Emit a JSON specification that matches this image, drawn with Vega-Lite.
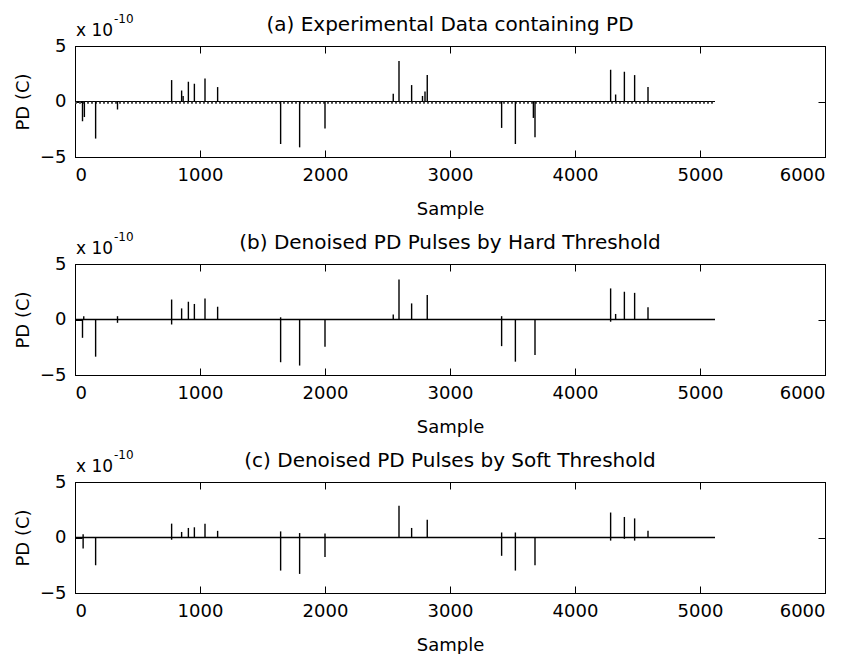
{
  "$schema": "https://vega.github.io/schema/vega-lite/v6.json",
  "background": "white",
  "padding": {"left": 13, "top": 12, "right": 10, "bottom": 0},
  "spacing": 11,
  "config": {
    "font": "DejaVu Sans",
    "view": {"stroke": "black", "strokeWidth": 1},
    "title": {"font": "DejaVu Sans", "fontSize": 20, "fontWeight": "normal", "color": "black", "offset": -22},
    "axis": {
      "grid": false, "domainColor": "black", "tickColor": "black", "labelColor": "black", "titleColor": "black",
      "labelFont": "DejaVu Sans", "titleFont": "DejaVu Sans", "labelFontSize": 18, "titleFontSize": 18,
      "titleFontWeight": "normal", "tickSize": -7, "labelPadding": 16, "format": "d"
    },
    "axisX": {"titlePadding": 16},
    "axisY": {"titlePadding": 7}
  },
  "datasets": {
    "base": [{"start": 0, "end": 5120, "level": 0}],
    "noise": [{"start": 0, "end": 5120, "level": -0.12}],
    "a": [
      {"s": 60, "v": -1.78}, {"s": 75, "v": -1.4}, {"s": 165, "v": -3.34}, {"s": 340, "v": -0.72},
      {"s": 773, "v": 1.93}, {"s": 853, "v": 0.99}, {"s": 865, "v": 0.5}, {"s": 907, "v": 1.78}, {"s": 955, "v": 1.6},
      {"s": 1040, "v": 2.08}, {"s": 1141, "v": 1.3}, {"s": 1645, "v": -3.83}, {"s": 1797, "v": -4.13},
      {"s": 2000, "v": -2.44}, {"s": 2546, "v": 0.7}, {"s": 2592, "v": 3.64}, {"s": 2693, "v": 1.48},
      {"s": 2780, "v": 0.5}, {"s": 2800, "v": 0.9}, {"s": 2818, "v": 2.38},
      {"s": 3413, "v": -2.38}, {"s": 3523, "v": -3.83}, {"s": 3667, "v": -1.48}, {"s": 3680, "v": -3.22},
      {"s": 4285, "v": 2.86}, {"s": 4325, "v": 0.63}, {"s": 4395, "v": 2.68}, {"s": 4477, "v": 2.38}, {"s": 4584, "v": 1.3}
    ],
    "b": [
      {"s": 60, "v": -1.65}, {"s": 70, "v": 0.3}, {"s": 165, "v": -3.35}, {"s": 340, "v": 0.3}, {"s": 340, "v": -0.3},
      {"s": 773, "v": 1.8}, {"s": 773, "v": -0.45}, {"s": 853, "v": 1.0}, {"s": 907, "v": 1.6}, {"s": 955, "v": 1.4},
      {"s": 1040, "v": 1.9}, {"s": 1141, "v": 1.15}, {"s": 1645, "v": -3.85}, {"s": 1645, "v": 0.2},
      {"s": 1797, "v": -4.15}, {"s": 2000, "v": -2.45}, {"s": 2546, "v": 0.45}, {"s": 2592, "v": 3.6},
      {"s": 2693, "v": 1.45}, {"s": 2818, "v": 2.2}, {"s": 3413, "v": -2.4}, {"s": 3413, "v": 0.3},
      {"s": 3523, "v": -3.8}, {"s": 3680, "v": -3.2}, {"s": 4285, "v": 2.8}, {"s": 4285, "v": -0.2},
      {"s": 4325, "v": 0.5}, {"s": 4395, "v": 2.5}, {"s": 4477, "v": 2.4}, {"s": 4584, "v": 1.1}
    ],
    "c": [
      {"s": 65, "v": -0.98}, {"s": 65, "v": 0.3}, {"s": 165, "v": -2.5}, {"s": 773, "v": 1.25}, {"s": 773, "v": -0.2},
      {"s": 853, "v": 0.5}, {"s": 907, "v": 0.86}, {"s": 955, "v": 0.92}, {"s": 1040, "v": 1.25}, {"s": 1141, "v": 0.6},
      {"s": 1645, "v": -2.98}, {"s": 1645, "v": 0.55}, {"s": 1797, "v": -3.28}, {"s": 1797, "v": 0.4},
      {"s": 2000, "v": -1.75}, {"s": 2000, "v": 0.35}, {"s": 2592, "v": 2.85}, {"s": 2693, "v": 0.86},
      {"s": 2818, "v": 1.6}, {"s": 3413, "v": -1.65}, {"s": 3413, "v": 0.45}, {"s": 3523, "v": -2.98},
      {"s": 3523, "v": 0.45}, {"s": 3680, "v": -2.5}, {"s": 4285, "v": 2.25}, {"s": 4285, "v": -0.28},
      {"s": 4395, "v": 1.85}, {"s": 4395, "v": -0.12}, {"s": 4477, "v": 1.72}, {"s": 4477, "v": -0.28}, {"s": 4584, "v": 0.6}
    ]
  },
  "vconcat": [
    {
      "width": 750, "height": 111,
      "title": "(a) Experimental Data containing PD",
      "resolve": {"axis": {"x": "independent", "y": "independent"}},
      "layer": [
        {
          "data": {"name": "base"},
          "mark": {"type": "rule", "color": "black", "strokeWidth": 1},
          "encoding": {
            "x": {"field": "start", "type": "quantitative", "scale": {"domain": [0, 6000], "nice": false}, "axis": {"orient": "bottom", "values": [0, 1000, 2000, 3000, 4000, 5000, 6000], "title": "Sample"}},
            "x2": {"field": "end"},
            "y": {"field": "level", "type": "quantitative", "scale": {"domain": [-5, 5], "nice": false}, "axis": {"orient": "left", "values": [-5, 0, 5], "title": "PD (C)"}}
          }
        },
        {
          "data": {"name": "noise"},
          "mark": {"type": "rule", "color": "#444444", "strokeWidth": 2, "strokeDash": [2, 2]},
          "encoding": {
            "x": {"field": "start", "type": "quantitative", "axis": null},
            "x2": {"field": "end"},
            "y": {"field": "level", "type": "quantitative", "axis": null}
          }
        },
        {
          "data": {"name": "a"},
          "mark": {"type": "rule", "color": "black", "strokeWidth": 1.4},
          "encoding": {
            "x": {"field": "s", "type": "quantitative", "axis": null},
            "y": {"field": "v", "type": "quantitative", "axis": null},
            "y2": {"datum": 0}
          }
        },
        {
          "data": {"name": "base"},
          "mark": {"type": "rule", "opacity": 0},
          "encoding": {
            "x": {"field": "start", "type": "quantitative", "axis": {"orient": "top", "values": [0, 1000, 2000, 3000, 4000, 5000, 6000], "labels": false, "title": null}},
            "x2": {"field": "end"},
            "y": {"field": "level", "type": "quantitative", "axis": {"orient": "right", "values": [-5, 0, 5], "labels": false, "title": null}}
          }
        },
        {
          "data": {"values": [{"t": "x 10", "sx": 0, "sy": 5}]},
          "mark": {"type": "text", "align": "left", "baseline": "alphabetic", "dx": 1, "dy": -10, "fontSize": 17, "color": "black"},
          "encoding": {"x": {"field": "sx", "type": "quantitative", "axis": null}, "y": {"field": "sy", "type": "quantitative", "axis": null}, "text": {"field": "t"}}
        },
        {
          "data": {"values": [{"t": "-10", "sx": 0, "sy": 5}]},
          "mark": {"type": "text", "align": "left", "baseline": "alphabetic", "dx": 39, "dy": -23, "fontSize": 12, "color": "black"},
          "encoding": {"x": {"field": "sx", "type": "quantitative", "axis": null}, "y": {"field": "sy", "type": "quantitative", "axis": null}, "text": {"field": "t"}}
        }
      ]
    },
    {
      "width": 750, "height": 111,
      "title": "(b) Denoised PD Pulses by Hard Threshold",
      "resolve": {"axis": {"x": "independent", "y": "independent"}},
      "layer": [
        {
          "data": {"name": "base"},
          "mark": {"type": "rule", "color": "black", "strokeWidth": 1.3},
          "encoding": {
            "x": {"field": "start", "type": "quantitative", "scale": {"domain": [0, 6000], "nice": false}, "axis": {"orient": "bottom", "values": [0, 1000, 2000, 3000, 4000, 5000, 6000], "title": "Sample"}},
            "x2": {"field": "end"},
            "y": {"field": "level", "type": "quantitative", "scale": {"domain": [-5, 5], "nice": false}, "axis": {"orient": "left", "values": [-5, 0, 5], "title": "PD (C)"}}
          }
        },
        {
          "data": {"name": "b"},
          "mark": {"type": "rule", "color": "black", "strokeWidth": 1.4},
          "encoding": {
            "x": {"field": "s", "type": "quantitative", "axis": null},
            "y": {"field": "v", "type": "quantitative", "axis": null},
            "y2": {"datum": 0}
          }
        },
        {
          "data": {"name": "base"},
          "mark": {"type": "rule", "opacity": 0},
          "encoding": {
            "x": {"field": "start", "type": "quantitative", "axis": {"orient": "top", "values": [0, 1000, 2000, 3000, 4000, 5000, 6000], "labels": false, "title": null}},
            "x2": {"field": "end"},
            "y": {"field": "level", "type": "quantitative", "axis": {"orient": "right", "values": [-5, 0, 5], "labels": false, "title": null}}
          }
        },
        {
          "data": {"values": [{"t": "x 10", "sx": 0, "sy": 5}]},
          "mark": {"type": "text", "align": "left", "baseline": "alphabetic", "dx": 1, "dy": -10, "fontSize": 17, "color": "black"},
          "encoding": {"x": {"field": "sx", "type": "quantitative", "axis": null}, "y": {"field": "sy", "type": "quantitative", "axis": null}, "text": {"field": "t"}}
        },
        {
          "data": {"values": [{"t": "-10", "sx": 0, "sy": 5}]},
          "mark": {"type": "text", "align": "left", "baseline": "alphabetic", "dx": 39, "dy": -23, "fontSize": 12, "color": "black"},
          "encoding": {"x": {"field": "sx", "type": "quantitative", "axis": null}, "y": {"field": "sy", "type": "quantitative", "axis": null}, "text": {"field": "t"}}
        }
      ]
    },
    {
      "width": 750, "height": 111,
      "title": "(c) Denoised PD Pulses by Soft Threshold",
      "resolve": {"axis": {"x": "independent", "y": "independent"}},
      "layer": [
        {
          "data": {"name": "base"},
          "mark": {"type": "rule", "color": "black", "strokeWidth": 1.3},
          "encoding": {
            "x": {"field": "start", "type": "quantitative", "scale": {"domain": [0, 6000], "nice": false}, "axis": {"orient": "bottom", "values": [0, 1000, 2000, 3000, 4000, 5000, 6000], "title": "Sample"}},
            "x2": {"field": "end"},
            "y": {"field": "level", "type": "quantitative", "scale": {"domain": [-5, 5], "nice": false}, "axis": {"orient": "left", "values": [-5, 0, 5], "title": "PD (C)"}}
          }
        },
        {
          "data": {"name": "c"},
          "mark": {"type": "rule", "color": "black", "strokeWidth": 1.4},
          "encoding": {
            "x": {"field": "s", "type": "quantitative", "axis": null},
            "y": {"field": "v", "type": "quantitative", "axis": null},
            "y2": {"datum": 0}
          }
        },
        {
          "data": {"name": "base"},
          "mark": {"type": "rule", "opacity": 0},
          "encoding": {
            "x": {"field": "start", "type": "quantitative", "axis": {"orient": "top", "values": [0, 1000, 2000, 3000, 4000, 5000, 6000], "labels": false, "title": null}},
            "x2": {"field": "end"},
            "y": {"field": "level", "type": "quantitative", "axis": {"orient": "right", "values": [-5, 0, 5], "labels": false, "title": null}}
          }
        },
        {
          "data": {"values": [{"t": "x 10", "sx": 0, "sy": 5}]},
          "mark": {"type": "text", "align": "left", "baseline": "alphabetic", "dx": 1, "dy": -10, "fontSize": 17, "color": "black"},
          "encoding": {"x": {"field": "sx", "type": "quantitative", "axis": null}, "y": {"field": "sy", "type": "quantitative", "axis": null}, "text": {"field": "t"}}
        },
        {
          "data": {"values": [{"t": "-10", "sx": 0, "sy": 5}]},
          "mark": {"type": "text", "align": "left", "baseline": "alphabetic", "dx": 39, "dy": -23, "fontSize": 12, "color": "black"},
          "encoding": {"x": {"field": "sx", "type": "quantitative", "axis": null}, "y": {"field": "sy", "type": "quantitative", "axis": null}, "text": {"field": "t"}}
        }
      ]
    }
  ]
}
